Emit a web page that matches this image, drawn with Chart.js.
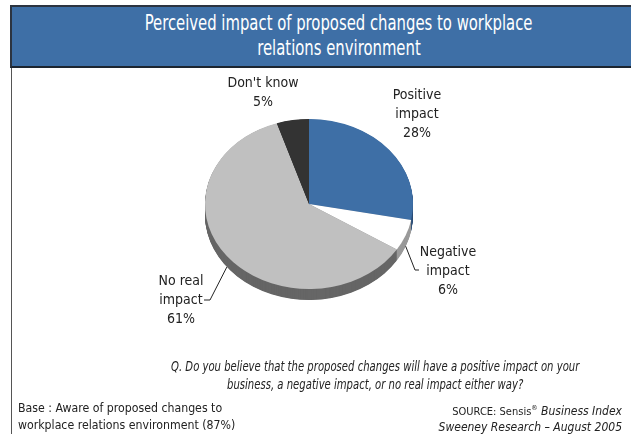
<!DOCTYPE html>
<html>
<head>
<meta charset="utf-8">
<script src="https://cdn.jsdelivr.net/npm/chart.js@4/dist/chart.umd.min.js"></script>
<style>
  html, body { margin: 0; padding: 0; background: #fff; width: 631px; height: 434px; overflow: hidden; }
  body { position: relative; font-family: 'DejaVu Sans Condensed', 'DejaVu Sans', sans-serif; color: #222; }
  #rule { position: absolute; left: 11px; top: 5px; width: 1px; height: 429px; background: #555; }
  #titlebar { position: absolute; left: 10px; top: 5px; width: 656px; height: 63px; box-sizing: border-box;
              background: #3E6FA6; border-top: 2px solid #2c3440; border-left: 2px solid #2c3440; border-bottom: 2px solid #1c2530;
              color: #fff; text-align: center; font-size: 22px; line-height: 25px; padding-top: 3px; }
  .narrow { display: inline-block; white-space: nowrap; transform-origin: center; }
  #titlebar .narrow { transform: scaleX(0.75); }
  #pie { position: absolute; left: 0; top: 0; }
  .q { position: absolute; left: 0; width: 750px; text-align: center; font-style: italic; font-size: 14px; }
  .q .narrow { transform: scaleX(0.8); }
  .base { position: absolute; left: 18px; font-size: 13px; }
  .base .narrow { transform: scaleX(0.94); transform-origin: left center; }
  .src { position: absolute; right: 9px; text-align: right; font-size: 12px; }
  .src .up { font-size: 11px; }
  i { font-style: italic; }
</style>
</head>
<body>
<div id="rule"></div>
<div id="titlebar"><span class="narrow">Perceived impact of proposed changes to workplace</span><br><span class="narrow">relations environment</span></div>
<canvas id="pie" width="631" height="434"></canvas>
<div class="q" style="top:358px"><span class="narrow">Q. Do you believe that the proposed changes will have a positive impact on your</span></div>
<div class="q" style="top:376px"><span class="narrow">business, a negative impact, or no real impact either way?</span></div>
<div class="base" style="top:400px"><span class="narrow">Base : Aware of proposed changes to</span></div>
<div class="base" style="top:417px"><span class="narrow">workplace relations environment (87%)</span></div>
<div class="src" style="top:404px"><span class="up">SOURCE: Sensis<sup style="font-size:7px">®</sup></span> <i>Business Index</i></div>
<div class="src" style="top:420px"><i>Sweeney Research – August 2005</i></div>
<script>
// Survey answers, in drawing order (clockwise from 12 o'clock)
const categories = [['Positive', 'impact'], ['Negative', 'impact'], ['No real', 'impact'], ["Don't know"]];
const shares = [28, 6, 61, 5];
const faceColors = ['#3E6FA6', '#FFFFFF', '#C0C0C0', '#333333'];
const sideColors = ['#2B4E78', '#9A9A9A', '#666666', '#222222'];

const TILT = 0.817;   // vertical squash of the pie face
const DEPTH = 11;     // thickness of the pie edge in px

// Flattens the pie into an ellipse and paints its edge underneath
const pie3d = {
  id: 'pie3d',
  beforeDatasetsDraw(chart) {
    const arcs = chart.getDatasetMeta(0).data;
    const ctx = chart.ctx;
    const cx = arcs[0].x, cy = arcs[0].y;
    ctx.save();
    ctx.translate(cx, cy);
    ctx.scale(1, TILT);
    ctx.translate(-cx, -cy);
    for (let d = DEPTH; d > 0; d -= 0.5) {
      arcs.forEach((a, i) => {
        const oy = d / TILT;
        ctx.beginPath();
        ctx.moveTo(a.x, a.y + oy);
        ctx.arc(a.x, a.y + oy, a.outerRadius, a.startAngle, a.endAngle);
        ctx.closePath();
        ctx.fillStyle = sideColors[i];
        ctx.fill();
      });
    }
  },
  afterDatasetsDraw(chart) {
    chart.ctx.restore();
  }
};

// Category name and percentage beside each slice, with leader lines where needed
const sliceLabels = {
  id: 'sliceLabels',
  afterDraw(chart, args, opts) {
    const arcs = chart.getDatasetMeta(0).data;
    const ctx = chart.ctx;
    ctx.save();
    ctx.fillStyle = '#222';
    ctx.strokeStyle = '#222';
    ctx.lineWidth = 1;
    ctx.font = opts.font;
    ctx.textAlign = 'center';
    ctx.textBaseline = 'middle';
    arcs.forEach((a, i) => {
      const lay = opts.layout[i];
      const lines = categories[i].concat([shares[i] + '%']);
      lines.forEach((t, k) => ctx.fillText(t, a.x + lay.dx, a.y + lay.dy + k * opts.lineHeight));
      if (lay.elbow) {
        const mid = (a.startAngle + a.endAngle) / 2;
        const px = a.x + a.outerRadius * Math.cos(mid);
        const py = a.y + a.outerRadius * TILT * Math.sin(mid) + DEPTH;
        ctx.beginPath();
        ctx.moveTo(px, py);
        ctx.lineTo(a.x + lay.elbow[0], a.y + lay.elbow[1]);
        ctx.lineTo(a.x + lay.end[0], a.y + lay.end[1]);
        ctx.stroke();
      }
    });
    ctx.restore();
  }
};

new Chart(document.getElementById('pie'), {
  type: 'pie',
  data: {
    labels: categories.map(c => c.join(' ')),
    datasets: [{
      data: shares,
      backgroundColor: faceColors,
      borderWidth: 0
    }]
  },
  options: {
    responsive: false,
    animation: false,
    events: [],
    layout: { padding: { left: 205, right: 218, top: 100, bottom: 126 } },
    plugins: {
      legend: { display: false },
      tooltip: { enabled: false },
      sliceLabels: {
        font: "14px 'DejaVu Sans Condensed', 'DejaVu Sans', sans-serif",
        lineHeight: 19,
        layout: [
          { dx: 108, dy: -109 },
          { dx: 139, dy: 48, elbow: [106, 66], end: [110, 66] },
          { dx: -128, dy: 77, elbow: [-99, 96], end: [-105, 96] },
          { dx: -46, dy: -121 }
        ]
      }
    }
  },
  plugins: [pie3d, sliceLabels]
});
</script>
</body>
</html>
